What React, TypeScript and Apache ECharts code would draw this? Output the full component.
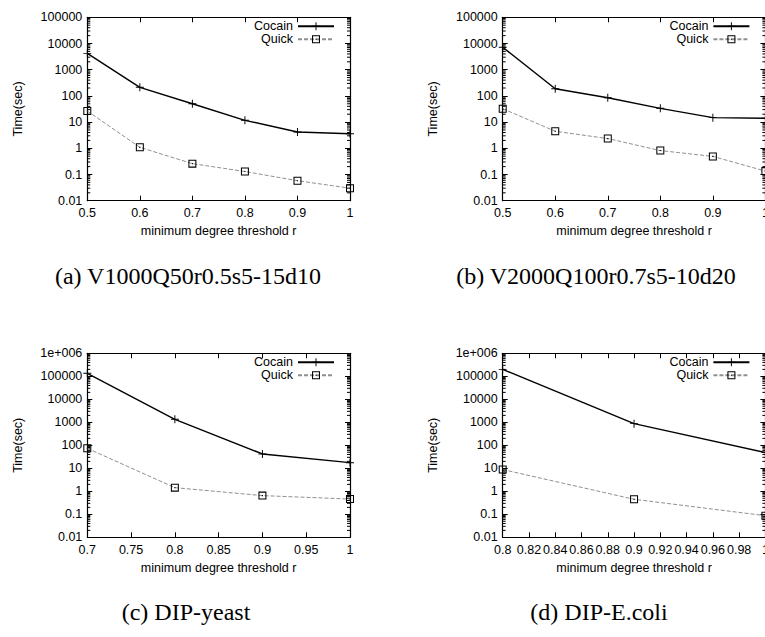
import React, { useEffect, useRef } from 'react';
import * as echarts from 'echarts';

// ---- data ----
const xA = [0.5, 0.6, 0.7, 0.8, 0.9, 1.0];
const cocainA = [4200, 213, 50, 11.7, 4.2, 3.6];
const quickA = [26.5, 1.09, 0.26, 0.13, 0.058, 0.03];

const xB = [0.5, 0.6, 0.7, 0.8, 0.9, 1.0];
const cocainB = [7200, 188, 85, 33.5, 14.8, 14];
const quickB = [32.5, 4.47, 2.35, 0.82, 0.49, 0.135];

const xC = [0.7, 0.8, 0.9, 1.0];
const cocainC = [135000, 1350, 42, 17.6];
const quickC = [74, 1.44, 0.65, 0.46];

const xD = [0.8, 0.9, 1.0];
const cocainD = [200000, 875, 48];
const quickD = [8.8, 0.45, 0.087];

const captions = [
  '(a) V1000Q50r0.5s5-15d10',
  '(b) V2000Q100r0.7s5-10d20',
  '(c) DIP-yeast',
  '(d) DIP-E.coli',
];
const xName = 'minimum degree threshold r';
const yName = 'Time(sec)';
const seriesNames = ['Cocain', 'Quick'];
// [min, max, interval]
const xRanges = [
  [0.5, 1, 0.1],
  [0.5, 1, 0.1],
  [0.7, 1, 0.05],
  [0.8, 1, 0.02],
];
const yRanges = [
  [0.01, 100000],
  [0.01, 100000],
  [0.01, 1000000],
  [0.01, 1000000],
];
const minorMultipliers = [2, 3, 4, 5, 6, 7, 8, 9];

const panelData = [
  { x: xA, c: cocainA, q: quickA },
  { x: xB, c: cocainB, q: quickB },
  { x: xC, c: cocainC, q: quickC },
  { x: xD, c: cocainD, q: quickD },
];

// ---- layout ----
const W = 775;
const H = 637;
const panels = [
  { left: 87.3, top: 17.3, width: 262.7, height: 183.4, capX: 188, capY: 276, nameGapX: 24 },
  { left: 502.7, top: 17.3, width: 262.7, height: 183.4, capX: 596, capY: 276, nameGapX: 24 },
  { left: 87.3, top: 353.3, width: 262.7, height: 184, capX: 186, capY: 612, nameGapX: 24 },
  { left: 502.7, top: 353.3, width: 262.7, height: 184, capX: 599, capY: 612, nameGapX: 24 },
];

const SANS = 'Liberation Sans, Arial, sans-serif';
const SERIF = 'Liberation Serif, Times New Roman, serif';
const FS = 12.5;

const plusSymbol = 'path://M4.4 0H5.6V10H4.4Z M0 4.4H10V5.6H0Z';
const boxSymbol = 'path://M0 0H10V10H0Z M1.3 1.3V8.7H8.7V1.3Z M4.3 4.3H5.7V5.7H4.3Z';

function fmtY(v: number) {
  if (v >= 999999) return '1e+006';
  return String(parseFloat(Number(v).toPrecision(3)));
}
function fmtX(v: number) {
  return String(parseFloat(Number(v).toFixed(3)));
}

function buildOption() {
  const grid: any[] = [];
  const xAxis: any[] = [];
  const yAxis: any[] = [];
  const series: any[] = [];
  const legend: any[] = [];
  const graphic: any[] = [];

  panels.forEach((p, i) => {
    const [xmin, xmax, xint] = xRanges[i];
    const [ymin, ymax] = yRanges[i];
    grid.push({ left: p.left, top: p.top, width: p.width, height: p.height, containLabel: false });

    const axisLine = { show: true, onZero: false, lineStyle: { color: '#000', width: 1.2 } };
    const tick = { show: true, inside: true, length: 5, lineStyle: { color: '#000', width: 1 } };

    xAxis.push({
      type: 'value', gridIndex: i, position: 'bottom', min: xmin, max: xmax, interval: xint,
      axisLine, axisTick: tick, splitLine: { show: false },
      axisLabel: { color: '#000', fontFamily: SANS, fontSize: FS, margin: 6, formatter: fmtX, showMaxLabel: true, showMinLabel: true },
      name: xName, nameLocation: 'middle', nameGap: p.nameGapX,
      nameTextStyle: { color: '#000', fontFamily: SANS, fontSize: FS },
    });
    xAxis.push({
      type: 'value', gridIndex: i, position: 'top', min: xmin, max: xmax, interval: xint,
      axisLine, axisTick: tick, splitLine: { show: false }, axisLabel: { show: false },
    });
    yAxis.push({
      type: 'log', logBase: 10, gridIndex: i, position: 'left', min: ymin, max: ymax,
      axisLine, axisTick: tick, splitLine: { show: false },
      axisLabel: { color: '#000', fontFamily: SANS, fontSize: FS, margin: 5, formatter: fmtY, showMaxLabel: true, showMinLabel: true },
      name: yName, nameLocation: 'middle', nameRotate: 90, nameGap: 63,
      nameTextStyle: { color: '#000', fontFamily: SANS, fontSize: FS },
    });
    yAxis.push({
      type: 'log', logBase: 10, gridIndex: i, position: 'right', min: ymin, max: ymax,
      axisLine, axisTick: tick, splitLine: { show: false }, axisLabel: { show: false },
    });

    const d = panelData[i];
    series.push({
      name: seriesNames[0], type: 'line', xAxisIndex: 2 * i, yAxisIndex: 2 * i,
      data: d.x.map((x, k) => [x, d.c[k]]),
      symbol: plusSymbol, symbolSize: 8, showSymbol: true,
      itemStyle: { color: '#000' },
      lineStyle: { color: '#000', width: 1.4 },
      z: 3, clip: false,
    });
    series.push({
      name: seriesNames[1], type: 'line', xAxisIndex: 2 * i, yAxisIndex: 2 * i,
      data: d.x.map((x, k) => [x, d.q[k]]),
      symbol: boxSymbol, symbolSize: 8, showSymbol: true,
      itemStyle: { color: '#000' },
      lineStyle: { color: '#909090', width: 1, type: [4, 2] },
      z: 2, clip: false,
    });

    // minor log ticks on left & right borders
    const minorData: number[][] = [];
    const e0 = Math.round(Math.log10(ymin));
    const e1 = Math.round(Math.log10(ymax));
    for (let e = e0; e < e1; e++) {
      minorMultipliers.forEach((m) => minorData.push([xmin, m * Math.pow(10, e)]));
    }
    series.push({
      type: 'custom', xAxisIndex: 2 * i, yAxisIndex: 2 * i, silent: true, clip: false,
      data: minorData,
      renderItem: (params: any, api: any) => {
        const v = api.value(1);
        const l = api.coord([xmin, v]);
        const r = api.coord([xmax, v]);
        return {
          type: 'group',
          children: [
            { type: 'line', shape: { x1: l[0], y1: l[1], x2: l[0] + 3, y2: l[1] }, style: { stroke: '#000', lineWidth: 1 } },
            { type: 'line', shape: { x1: r[0] - 3, y1: r[1], x2: r[0], y2: r[1] }, style: { stroke: '#000', lineWidth: 1 } },
          ],
        };
      },
    });

    seriesNames.forEach((nm, k) => {
      legend.push({
        data: [nm],
        right: W - (p.left + p.width - 15),
        top: p.top + 9 + k * 13 - 6.5,
        orient: 'horizontal', align: 'right',
        itemWidth: 36, itemHeight: 10, itemGap: 0, padding: 0,
        selectedMode: false,
        textStyle: { color: '#000', fontFamily: SANS, fontSize: FS, lineHeight: 13 },
      });
    });

    graphic.push({
      type: 'text', x: p.capX, y: p.capY,
      style: {
        text: captions[i], fill: '#000', font: `24px ${SERIF}`,
        align: 'center', verticalAlign: 'middle',
      },
    });
  });

  return {
    animation: false,
    backgroundColor: '#fff',
    grid, xAxis, yAxis, series, legend, graphic,
  };
}

export default function App() {
  const ref = useRef<HTMLDivElement>(null);
  useEffect(() => {
    if (!ref.current) return;
    const chart = echarts.init(ref.current, undefined, { renderer: 'svg' });
    chart.setOption(buildOption() as any);
    return () => chart.dispose();
  }, []);
  return (
    <div style={{ position: 'fixed', left: 0, top: 0, width: 765, height: H, overflow: 'hidden', background: '#fff' }}>
      <div ref={ref} style={{ width: W, height: H }} />
    </div>
  );
}
